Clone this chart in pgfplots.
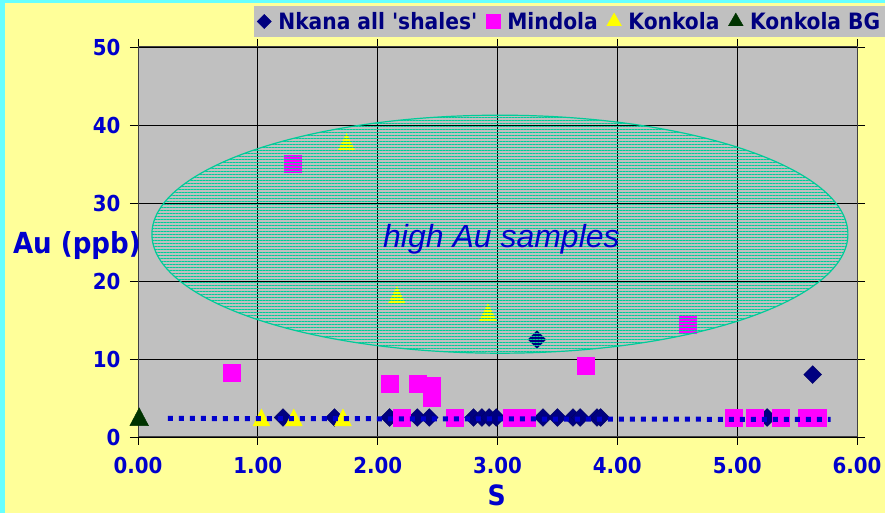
\documentclass[border=0pt]{standalone}
\usepackage{pgfplots}
\pgfplotsset{compat=1.18}
\usepackage{pgfplotstable}
\usetikzlibrary{patterns.meta}
\usepackage{fontspec}
\newfontfamily\tahb{DejaVu Sans Condensed Bold}
\newfontfamily\arialfont{Liberation Sans}

\definecolor{slidecyan}{HTML}{66FFFF}
\definecolor{slideyellow}{HTML}{FFFF99}
\definecolor{plotgray}{HTML}{C0C0C0}
\definecolor{navy}{HTML}{000080}
\definecolor{labelblue}{HTML}{0000CC}
\definecolor{mag}{HTML}{FF00FF}
\definecolor{yel}{HTML}{FFFF00}
\definecolor{bggreen}{HTML}{003300}
\definecolor{ellteal}{HTML}{00CC99}
\definecolor{trendblue}{HTML}{0000CC}

% S (wt%) against Au (ppb)
\pgfplotstableread{
x y
1.21 2.5
1.64 2.5
2.10 2.5
2.33 2.5
2.43 2.5
2.80 2.5
2.87 2.5
2.93 2.5
2.99 2.5
3.38 2.5
3.50 2.5
3.63 2.5
3.69 2.5
3.83 2.5
3.86 2.5
5.25 2.5
3.33 12.5
5.63 8.0
}\nkana
\pgfplotstableread{
x y
0.78 8.2
1.29 35.1
2.10 6.8
2.33 6.8
2.45 6.6
2.45 5.1
2.20 2.5
2.64 2.5
3.12 2.5
3.24 2.5
3.74 9.2
4.59 14.4
4.97 2.5
5.15 2.5
5.36 2.5
5.58 2.5
5.67 2.5
}\mindola
\pgfplotstableread{
x y
1.03 2.5
1.30 2.5
1.71 2.5
1.74 37.8
2.16 18.2
2.92 16.0
}\konkola
\pgfplotstableread{
x y
0.01 2.6
}\konkolabg

\begin{document}
\begin{tikzpicture}[x=1pt,y=1pt]
\useasboundingbox (0,0) rectangle (885,513);
\clip (0,0) rectangle (885,513);
\fill[slidecyan] (0,0) rectangle (885,513);
\fill[slideyellow] (5,0) rectangle (885,510);
\begin{axis}[
  at={(138pt,76pt)}, anchor=south west,
  scale only axis, width=719pt, height=390pt,
  xmin=0, xmax=6, ymin=0, ymax=50,
  clip mode=individual,
  xtick={0,1,...,6}, ytick={0,10,...,50},
  grid=major,
  major grid style={black, line width=0.8pt},
  axis line style={black!75, line width=1pt},
  axis background/.style={fill=plotgray},
  tick align=outside, major tick length=8pt,
  tick style={black, line width=0.8pt},
  /pgf/number format/assume math mode=true,
  ticklabel style={font=\tahb\fontsize{22pt}{26pt}\selectfont, text=labelblue},
  x tick label style={/pgf/number format/.cd, fixed, fixed zerofill, precision=2, /tikz/.cd, yshift=-9pt},
  y tick label style={xshift=-6pt},
  xlabel={S},
  xlabel style={at={(axis description cs:0.499,-0.149)}, anchor=center,
    font=\tahb\fontsize{28pt}{30pt}\selectfont, text=labelblue},
  ylabel={Au (ppb)},
  ylabel style={rotate=-90, at={(axis description cs:-0.085,0.492)}, anchor=center,
    font=\tahb\fontsize{29pt}{31pt}\selectfont, text=labelblue},
  legend columns=4,
  legend style={at={(axis description cs:0.1613,1.105)}, anchor=north west,
    fill=plotgray, draw=none, inner xsep=3pt, inner ysep=2pt,
    font=\tahb\fontsize{22.5pt}{25pt}\selectfont, text=navy,
    nodes={inner xsep=2pt, inner ysep=4pt},
    /tikz/every odd column/.append style={column sep=5pt},
    /tikz/every even column/.append style={column sep=7pt}},
  legend image code/.code={\draw[#1] plot coordinates {(0pt,0pt)};},
]
% data series
\addplot[only marks, color=navy, mark=square*, mark size=6.3pt,
  mark options={rotate=45, fill=navy, draw=navy!80!black, line width=0.4pt}, forget plot]
  table[x=x, y=y] {\nkana};
\addplot[only marks, color=mag, mark=square*, mark size=8.5pt, forget plot]
  table[x=x, y=y] {\mindola};
% triangles centred on their bounding box, slightly taller than equilateral
\addplot[only marks, color=yel, mark=triangle*, mark size=9.8pt,
  mark options={yshift=-2.8pt, yscale=1.15}, forget plot]
  table[x=x, y=y] {\konkola};
\addplot[only marks, color=bggreen, mark=triangle*, mark size=10.8pt,
  mark options={yshift=-3pt, yscale=1.1}, forget plot]
  table[x=x, y=y] {\konkolabg};

% linear trend through the Nkana background samples
\addplot[trendblue, line width=5pt, dash pattern=on 5pt off 6pt, forget plot]
  coordinates {(0.25,2.38) (5.78,2.25)};

% legend
\addlegendimage{only marks, color=navy, mark=square*, mark size=5pt, mark options={rotate=45}}
\addlegendentry{Nkana all 'shales'}
\addlegendimage{only marks, color=mag, mark=square*, mark size=7pt}
\addlegendentry{Mindola}
\addlegendimage{only marks, color=yel, mark=triangle*, mark size=8.5pt}
\addlegendentry{Konkola}
\addlegendimage{only marks, color=bggreen, mark=triangle*, mark size=8.5pt}
\addlegendentry{Konkola BG}

% hatched ellipse around the high-Au samples
\draw[ellteal, line width=1.2pt, pattern={Lines[angle=0, distance=3pt, line width=0.8pt]}, pattern color=ellteal]
  (axis cs:3.02,26) ellipse [x radius=348pt, y radius=119pt];
\node[font=\arialfont\itshape\fontsize{32pt}{34pt}\selectfont, text=labelblue]
  at (axis cs:3.033,25.4) {high Au samples};
\end{axis}
\end{tikzpicture}
\end{document}
